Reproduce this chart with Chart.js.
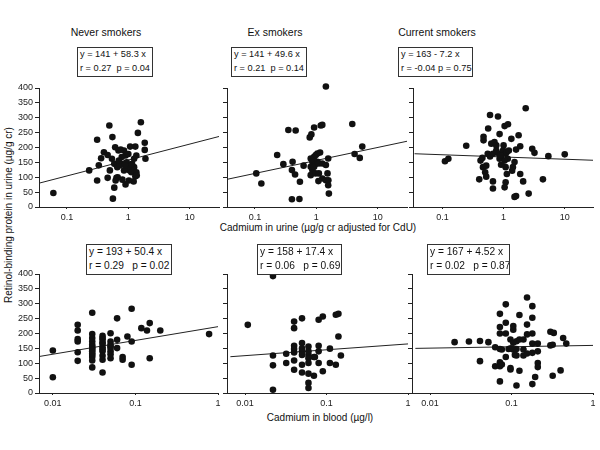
<!DOCTYPE html>
<html><head><meta charset="utf-8">
<script src="https://cdn.jsdelivr.net/npm/chart.js@4/dist/chart.umd.min.js"></script>
<style>
html,body{margin:0;padding:0;background:#fff;width:600px;height:450px;overflow:hidden;position:relative;font-family:"Liberation Sans",Arial,sans-serif;color:#111}
canvas{position:absolute}
.t{position:absolute;white-space:pre;font-size:10.3px;transform:translate(-50%,-50%)}
.box{position:absolute;border:1px solid #333;white-space:pre;box-sizing:border-box;background:#fff;z-index:2;overflow:hidden}
.box div{position:absolute;left:2px;transform:translateY(-50%);line-height:1}
.yt{position:absolute;white-space:pre;font-size:10px;transform:translate(-50%,-50%) rotate(-90deg)}
</style></head><body>
<script>
// ---- data ----
const panelTitles = ["Never smokers","Ex smokers","Current smokers"];
const urineAxisTitle = "Cadmium in urine (µg/g cr adjusted for CdU)";
const bloodAxisTitle = "Cadmium in blood (µg/l)";
const yAxisTitle = "Retinol-binding protein in urine (µg/g cr)";
const urineTicks = [0.1, 1, 10];
const bloodTicks = [0.01, 0.1, 1];
const yTicksStep = 50;

const neverUrineX = [0.06,0.23,0.31,0.31,0.33,0.36,0.40,0.46,0.49,0.46,0.50,0.54,0.55,0.56,0.59,0.59,0.61,0.64,0.66,0.69,1.6,1.43,1.85,1.85,1.9,1.3,1.07,1.35,1.24,0.85,0.75,0.9,0.94,0.82,0.72,0.98,1.05,1.12,1.24,1.35,1.3,1.37,1.22,1.02,0.9,0.8,0.67,0.62,0.78,0.7,0.85,1.0,0.88,1.15];
const neverUrineY = [47,123,226,89,140,164,184,175,274,98,123,162,235,28,65,145,201,98,134,190,285,249,216,192,162,203,203,173,162,190,193,173,150,145,140,134,123,117,134,117,103,106,86,89,76,92,100,89,168,156,123,178,140,145];
const exUrineX = [1.43,0.105,0.127,0.23,0.29,0.35,0.46,0.40,0.53,0.41,0.40,0.45,0.54,0.62,0.78,0.83,0.92,1.18,1.25,3.85,0.81,0.86,0.81,0.86,0.81,0.92,0.98,1.04,1.15,0.95,0.92,1.04,1.1,1.25,1.43,1.56,0.97,1.1,1.25,1.43,1.52,1.57,1.56,1.6,1.08,4.2,5.1,5.6];
const exUrineY = [405,113,79,175,144,259,257,26,27,152,124,109,85,139,234,244,267,274,276,279,163,152,135,124,107,169,175,180,183,143,135,152,146,146,141,163,113,113,96,90,113,90,73,45,87,178,165,203];
const curUrineX = [0.11,0.125,0.245,0.4,0.42,0.45,0.46,0.47,0.47,0.5,0.52,0.56,0.55,0.6,0.6,0.63,0.67,0.67,0.67,0.71,0.76,0.76,0.81,0.86,0.84,0.86,0.91,0.98,1.0,1.04,1.18,1.08,1.13,1.17,1.04,1.08,1.13,1.08,1.04,1.34,1.42,1.38,1.51,1.6,1.76,1.87,1.87,2.09,2.3,2.57,1.6,1.51,2.94,3.2,4.4,5.4,10,0.88,1.22,0.52,0.91];
const curUrineY = [154,162,206,93,156,165,134,224,236,117,102,264,179,309,170,213,86,62,179,218,207,190,304,245,179,162,168,190,207,272,278,179,185,162,156,134,111,83,66,229,134,122,151,193,241,204,111,86,332,45,37,34,196,182,93,171,177,173,190,139,142];

const neverBloodX = [0.01,0.01,0.02,0.02,0.02,0.02,0.02,0.02,0.03,0.03,0.03,0.03,0.03,0.03,0.03,0.03,0.03,0.03,0.03,0.03,0.03,0.03,0.04,0.04,0.04,0.04,0.04,0.04,0.04,0.04,0.04,0.04,0.04,0.05,0.05,0.05,0.05,0.05,0.05,0.05,0.05,0.06,0.06,0.06,0.07,0.07,0.08,0.09,0.09,0.09,0.118,0.138,0.149,0.149,0.2,0.78];
const neverBloodY = [143,53,229,210,181,173,137,108,270,198,173,162,151,140,128,121,109,86,185,155,145,133,192,179,165,154,140,125,112,69,185,170,147,201,173,162,151,140,117,130,156,251,179,151,121,112,190,283,173,95,218,210,235,117,210,198];
const exBloodX = [0.0108,0.022,0.022,0.022,0.022,0.032,0.032,0.04,0.04,0.04,0.04,0.04,0.04,0.04,0.05,0.05,0.05,0.05,0.05,0.05,0.06,0.06,0.06,0.06,0.06,0.06,0.06,0.07,0.07,0.08,0.08,0.08,0.08,0.09,0.09,0.11,0.11,0.13,0.13,0.14,0.14,0.15,0.072,0.05,0.06];
const exBloodY = [229,393,126,93,11,132,101,240,218,159,148,136,109,78,251,168,140,128,95,69,156,128,117,101,65,34,17,121,58,246,159,140,101,257,73,149,101,263,95,266,190,126,121,150,140];
const curBloodX = [0.02,0.03,0.041,0.041,0.052,0.063,0.063,0.072,0.072,0.072,0.072,0.072,0.072,0.072,0.076,0.076,0.085,0.085,0.085,0.085,0.092,0.097,0.097,0.097,0.105,0.105,0.105,0.105,0.115,0.115,0.115,0.115,0.125,0.125,0.125,0.14,0.14,0.14,0.155,0.155,0.155,0.155,0.18,0.18,0.18,0.18,0.18,0.18,0.195,0.21,0.21,0.21,0.21,0.3,0.3,0.33,0.32,0.32,0.4,0.43,0.47,0.098,0.11];
const curBloodY = [171,173,175,107,171,90,154,39,90,103,148,200,222,266,96,146,298,236,200,121,148,180,84,79,146,169,213,225,174,126,148,25,180,75,262,146,180,126,197,230,321,133,292,253,200,166,135,30,54,166,140,101,87,206,160,202,162,58,76,185,166,150,128];

// regression lines (end points)
const urineLineX = [0.035, 30];
const bloodLineX = [0.0066, 1];
const neverUrineLineY = [80, 237];
const exUrineLineY = [93, 221];
const curUrineLineY = [179, 157];
const neverBloodLineY = [122, 223];
const exBloodLineY = [122, 165];
const curBloodLineY = [150, 160];

const eqTexts = [
 ["y = 141 + 58.3 x","r = 0.27  p = 0.04"],
 ["y = 141 + 49.6 x","r = 0.21  p = 0.14"],
 ["y = 163 - 7.2 x","r = -0.04 p = 0.75"],
 ["y = 193 + 50.4 x","r = 0.29   p = 0.02"],
 ["y = 158 + 17.4 x","r = 0.06   p = 0.69"],
 ["y = 167 + 4.52 x","r = 0.02   p = 0.87"]
];

// ---- layout ----
const FONT = '"Liberation Sans", Arial, sans-serif';
const panels = [
 {L:39,R:219,T:88,B:207,xmin:0.035,xmax:30,ticks:urineTicks,px:neverUrineX,py:neverUrineY,lx:urineLineX,ly:neverUrineLineY,labels:true},
 {L:227,R:407,T:88,B:207,xmin:0.035,xmax:30,ticks:urineTicks,px:exUrineX,py:exUrineY,lx:urineLineX,ly:exUrineLineY,labels:false},
 {L:413,R:593,T:88,B:207,xmin:0.033,xmax:29,ticks:urineTicks,px:curUrineX,py:curUrineY,lx:urineLineX,ly:curUrineLineY,labels:false},
 {L:39,R:218,T:274,B:393,xmin:0.0068,xmax:1,ticks:bloodTicks,px:neverBloodX,py:neverBloodY,lx:bloodLineX,ly:neverBloodLineY,labels:true},
 {L:227,R:408,T:274,B:393,xmin:0.006,xmax:1,ticks:bloodTicks,px:exBloodX,py:exBloodY,lx:bloodLineX,ly:exBloodLineY,labels:false},
 {L:412,R:593,T:274,B:393,xmin:0.006,xmax:1,ticks:bloodTicks,px:curBloodX,py:curBloodY,lx:bloodLineX,ly:curBloodLineY,labels:false}
];
const boxes = [
 {x:77,y:47,w:76,h:30,fs:9.2},{x:231,y:47,w:76,h:30,fs:9.2},{x:398,y:47,w:75,h:30,fs:9.2},
 {x:86,y:244,w:86,h:31,fs:10.2},{x:257,y:244,w:85,h:31,fs:10.2},{x:427,y:244,w:83,h:31,fs:10.2}
];

function addText(cls, txt, x, y, extra){
  const d=document.createElement('div'); d.className=cls; d.textContent=txt;
  d.style.left=x+'px'; d.style.top=y+'px'; if(extra) Object.assign(d.style,extra);
  document.body.appendChild(d); return d;
}
addText('t',panelTitles[0],106,32,{fontSize:'10.5px'});
addText('t',panelTitles[1],275,32,{fontSize:'10.5px'});
addText('t',panelTitles[2],437,32,{fontSize:'10.5px'});
addText('t',urineAxisTitle,318,227,{fontSize:'10px'});
addText('t',bloodAxisTitle,320,417,{fontSize:'10px'});
addText('yt',yAxisTitle,8,215);
boxes.forEach((b,i)=>{
  const d=document.createElement('div'); d.className='box';
  d.style.left=b.x+'px'; d.style.top=b.y+'px'; d.style.width=b.w+'px'; d.style.height=b.h+'px';
  d.style.fontSize=b.fs+'px';
  eqTexts[i].forEach((s,k)=>{
    const l=document.createElement('div'); l.textContent=s;
    l.style.top=(k===0? 7 : 21)+'px';
    d.appendChild(l);
  });
  document.body.appendChild(d);
});

const PADL=40, PADT=10, PADB=25, PADR=7;
panels.forEach(p=>{
  const c=document.createElement('canvas');
  const w=(p.R-p.L)+PADL+PADR, h=(p.B-p.T)+PADT+PADB;
  c.width=w; c.height=h; c.style.left=(p.L-PADL)+'px'; c.style.top=(p.T-PADT)+'px';
  c.style.width=w+'px'; c.style.height=h+'px';
  document.body.appendChild(c);
  const pts=p.px.map((x,i)=>({x:x,y:p.py[i]}));
  const line=p.lx.map((x,i)=>({x:x,y:p.ly[i]}));
  new Chart(c,{
    type:'scatter',
    data:{datasets:[
      {data:pts,backgroundColor:'#111',borderWidth:0,pointRadius:3.3,clip:false},
      {data:line,showLine:true,borderColor:'#222',borderWidth:1,pointRadius:0,fill:false}
    ]},
    options:{
      responsive:false,animation:false,devicePixelRatio:1,
      layout:{padding:{left:0,top:PADT,right:PADR,bottom:0}},
      plugins:{legend:{display:false},tooltip:{enabled:false}},
      scales:{
        x:{type:'logarithmic',min:p.xmin,max:p.xmax,
           afterBuildTicks:s=>{s.ticks=p.ticks.map(v=>({value:v}));},
           afterFit:s=>{s.height=PADB;},
           grid:{drawOnChartArea:false,drawTicks:true,tickLength:2,color:'#222'},
           border:{display:true,color:'#222',width:1},
           ticks:{autoSkip:false,maxRotation:0,padding:3,color:'#222',font:{family:FONT,size:9},callback:v=>String(v)}},
        y:{min:0,max:400,
           afterFit:s=>{s.width=PADL;},
           grid:{drawOnChartArea:false,drawTicks:true,tickLength:4,color:'#222'},
           border:{display:true,color:'#222',width:1},
           ticks:{stepSize:yTicksStep,padding:2,color:p.labels?'#222':'rgba(0,0,0,0)',font:{family:FONT,size:9}}}
      }
    }
  });
});
</script>
</body></html>
